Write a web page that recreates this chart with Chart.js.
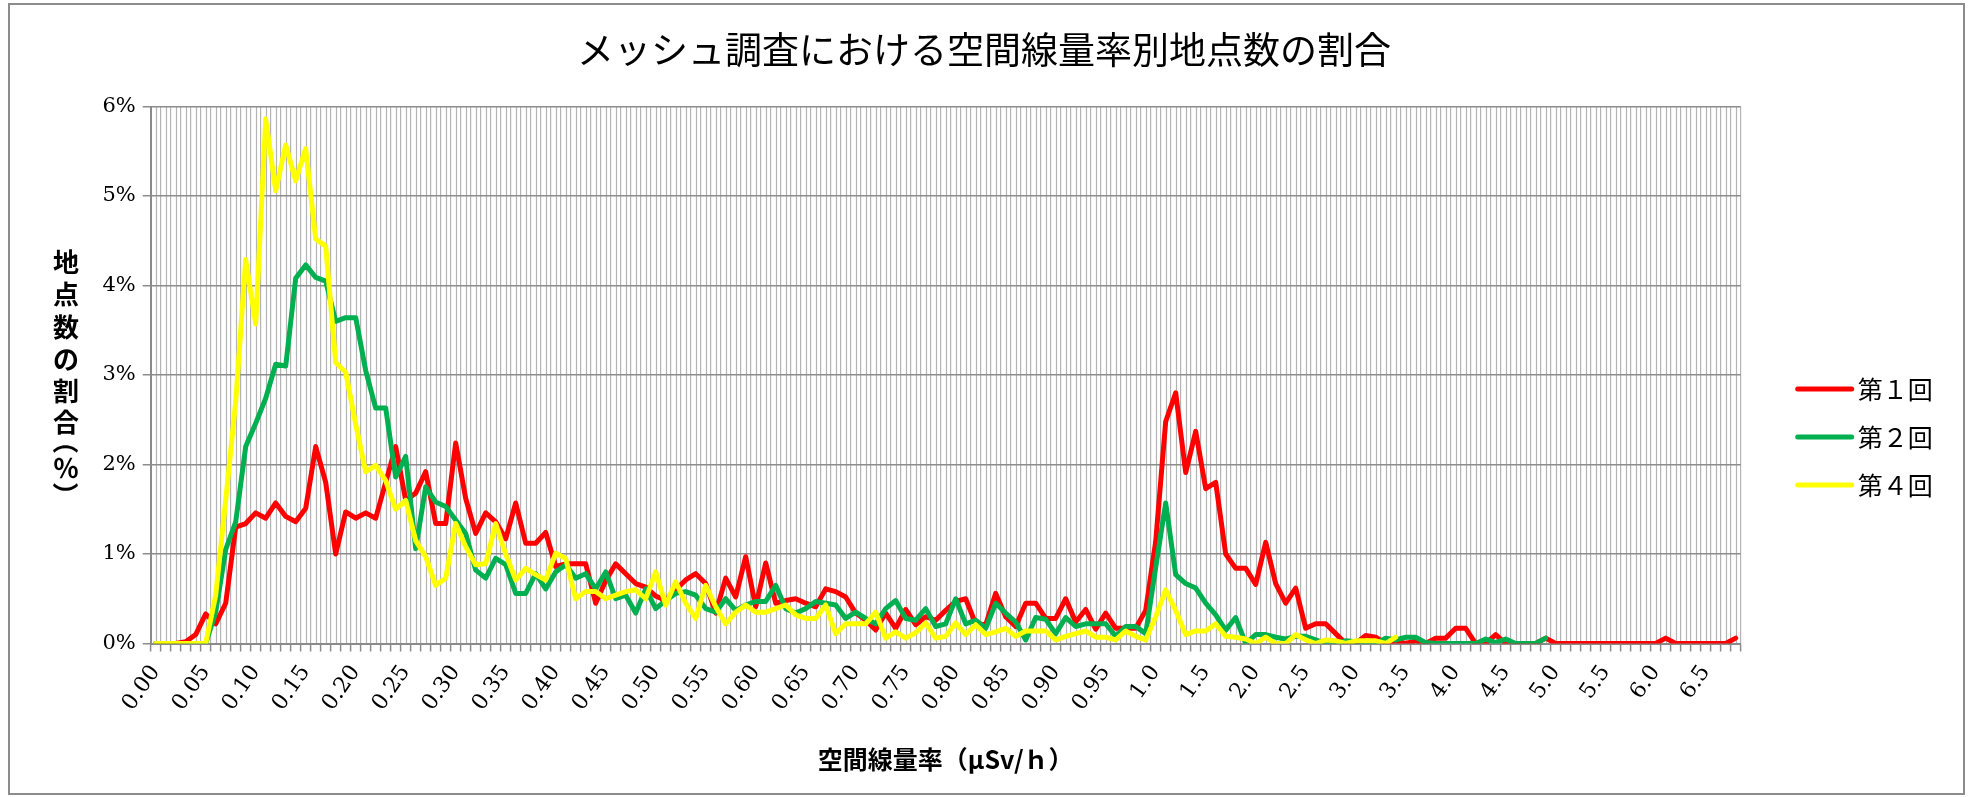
<!DOCTYPE html>
<html>
<head>
<meta charset="utf-8">
<script src="https://cdn.jsdelivr.net/npm/chart.js@4.4.1/dist/chart.umd.min.js"></script>
<style>
  html, body { margin: 0; padding: 0; background: #fff; }
  #wrap { width: 1968px; height: 797px; }
</style>
</head>
<body>
<div id="wrap"><canvas id="doseChart" width="1968" height="797"></canvas></div>
<script>
// categories: 0.00-0.99 by 0.01, then 1.0-6.8 by 0.1
const doseLabels = [];
for (let i = 0; i < 100; i++) doseLabels.push((i / 100).toFixed(2));
for (let i = 10; i <= 68; i++) doseLabels.push((i / 10).toFixed(1));

const seriesNames = ['第１回', '第２回', '第４回'];
const seriesColors = ['#FF0000', '#00B050', '#FFFF00'];
const yTicks = [0, 1, 2, 3, 4, 5, 6];

// % of points per dose-rate bin
const round1 = [
  0, 0, 0, 0.02, 0.1, 0.33, 0.22, 0.45, 1.3, 1.34,
  1.46, 1.40, 1.57, 1.42, 1.36, 1.51, 2.2, 1.8, 1.0, 1.47,
  1.40, 1.46, 1.40, 1.8, 2.2, 1.6, 1.68, 1.92, 1.34, 1.34,
  2.24, 1.62, 1.23, 1.46, 1.36, 1.17, 1.57, 1.12, 1.12, 1.24,
  0.86, 0.89, 0.89, 0.89, 0.45, 0.7, 0.89, 0.78, 0.67, 0.63,
  0.53, 0.48, 0.6, 0.71, 0.78, 0.67, 0.34, 0.73, 0.52, 0.97,
  0.41, 0.9, 0.45, 0.48, 0.5, 0.45, 0.41, 0.61, 0.58, 0.52,
  0.34, 0.26, 0.15, 0.34, 0.17, 0.38, 0.21, 0.30, 0.26, 0.37,
  0.47, 0.5, 0.22, 0.21, 0.56, 0.30, 0.19, 0.45, 0.45, 0.28,
  0.28, 0.5, 0.24, 0.38, 0.16, 0.34, 0.17, 0.17, 0.17, 0.37,
  1.14, 2.48, 2.80, 1.91, 2.37, 1.73, 1.8, 1.0, 0.84, 0.84,
  0.66, 1.13, 0.67, 0.45, 0.62, 0.17, 0.22, 0.22, 0.11, 0,
  0, 0.09, 0.07, 0, 0.03, 0, 0.03, 0, 0.06, 0.06,
  0.17, 0.17, 0, 0, 0.1, 0, 0, 0, 0, 0.06,
  0, 0, 0, 0, 0, 0, 0, 0, 0, 0,
  0, 0.06, 0, 0, 0, 0, 0, 0, 0.06
];
const round2 = [
  0, 0, 0, 0, 0, 0, 0.35, 1.05, 1.36, 2.2,
  2.46, 2.74, 3.12, 3.10, 4.08, 4.23, 4.09, 4.05, 3.6, 3.64,
  3.64, 3.05, 2.63, 2.63, 1.86, 2.09, 1.06, 1.75, 1.58, 1.53,
  1.38, 1.23, 0.82, 0.73, 0.95, 0.88, 0.56, 0.56, 0.78, 0.61,
  0.8, 0.88, 0.73, 0.78, 0.61, 0.8, 0.5, 0.54, 0.34, 0.61,
  0.39, 0.48, 0.56, 0.58, 0.54, 0.39, 0.35, 0.5, 0.37, 0.43,
  0.47, 0.47, 0.65, 0.39, 0.34, 0.39, 0.47, 0.45, 0.43, 0.28,
  0.35, 0.28, 0.22, 0.39, 0.48, 0.28, 0.26, 0.39, 0.19, 0.22,
  0.5, 0.22, 0.26, 0.17, 0.45, 0.34, 0.24, 0.04, 0.29, 0.27,
  0.11, 0.29, 0.19, 0.22, 0.22, 0.22, 0.08, 0.19, 0.19, 0.11,
  0.85, 1.57, 0.77, 0.67, 0.62, 0.45, 0.32, 0.15, 0.29, 0,
  0.1, 0.1, 0.07, 0.05, 0.08, 0.08, 0.04, 0, 0, 0.03,
  0.02, 0, 0, 0.06, 0.04, 0.07, 0.07, 0.01, 0, 0,
  0, 0, 0, 0.05, 0.01, 0.05, 0, 0, 0, 0.06
];
const round4 = [
  0, 0, 0, 0, 0, 0, 0.54, 1.6, 2.7, 4.29,
  3.57, 5.86, 5.06, 5.57, 5.17, 5.53, 4.52, 4.44, 3.14, 3.03,
  2.45, 1.92, 1.99, 1.82, 1.5, 1.6, 1.15, 0.97, 0.65, 0.73,
  1.34, 1.08, 0.88, 0.89, 1.34, 1.0, 0.71, 0.84, 0.77, 0.71,
  1.01, 0.95, 0.5, 0.58, 0.58, 0.5, 0.54, 0.58, 0.6, 0.5,
  0.8, 0.43, 0.69, 0.45, 0.28, 0.65, 0.41, 0.22, 0.35, 0.43,
  0.35, 0.35, 0.39, 0.43, 0.32, 0.28, 0.28, 0.43, 0.11, 0.22,
  0.22, 0.22, 0.35, 0.06, 0.13, 0.06, 0.12, 0.23, 0.06, 0.08,
  0.23, 0.1, 0.21, 0.1, 0.13, 0.17, 0.08, 0.14, 0.14, 0.14,
  0.04, 0.08, 0.11, 0.14, 0.07, 0.07, 0.04, 0.14, 0.08, 0.04,
  0.3, 0.6, 0.37, 0.1, 0.14, 0.14, 0.22, 0.08, 0.07, 0.05,
  0, 0.07, 0, 0, 0.1, 0.04, 0, 0.04, 0.03, 0,
  0.03, 0.03, 0.03, 0, 0.07
];

const serif = '"DejaVu Serif", "Liberation Serif", serif';
const jp = '"Noto Sans CJK JP", sans-serif';

// white page, grey frame, light lines through category centres
const framePlugin = {
  id: 'frame',
  beforeDraw(chart) {
    const ctx = chart.ctx;
    ctx.save();
    ctx.fillStyle = '#fff';
    ctx.fillRect(0, 0, chart.width, chart.height);
    ctx.strokeStyle = '#8c8c8c';
    ctx.lineWidth = 2;
    ctx.strokeRect(9, 4, chart.width - 13, chart.height - 7);
    const x = chart.scales.x, a = chart.chartArea;
    ctx.strokeStyle = '#b4b4b4';
    ctx.lineWidth = 1.2;
    ctx.beginPath();
    for (let i = 0; i < doseLabels.length; i++) {
      const px = Math.round(x.getPixelForValue(i)) + 0.5;
      ctx.moveTo(px, a.top);
      ctx.lineTo(px, a.bottom);
    }
    ctx.stroke();
    ctx.restore();
  }
};

// chart title, stacked y axis title and legend
const textPlugin = {
  id: 'texts',
  afterDraw(chart) {
    const ctx = chart.ctx, a = chart.chartArea;
    ctx.save();
    ctx.fillStyle = '#000';
    ctx.textAlign = 'center';
    ctx.textBaseline = 'middle';
    ctx.font = '37px ' + jp;
    ctx.fillText('メッシュ調査における空間線量率別地点数の割合', chart.width / 2, 50);

    const yTitle = ['地', '点', '数', 'の', '割', '合', '（', '％', '）'];
    const yPos = [262, 294, 327, 359, 391, 422, 441, 468, 495];
    ctx.font = 'bold 26px ' + jp;
    yTitle.forEach((ch, i) => {
      ctx.save();
      ctx.translate(66, yPos[i]);
      if (ch === '（' || ch === '）') ctx.rotate(Math.PI / 2);
      ctx.fillText(ch, 0, 0);
      ctx.restore();
    });

    ctx.textAlign = 'left';
    ctx.font = '25px ' + jp;
    ctx.lineCap = 'round';
    chart.data.datasets.forEach((ds, i) => {
      const y = 389 + i * 48;
      const x0 = a.right + 57;
      ctx.strokeStyle = ds.borderColor;
      ctx.lineWidth = 5;
      ctx.beginPath();
      ctx.moveTo(x0, y);
      ctx.lineTo(x0 + 54, y);
      ctx.stroke();
      ctx.fillText(ds.label, x0 + 60, y);
    });
    ctx.restore();
  }
};

const allSeries = [round1, round2, round4];
const datasets = allSeries.map((vals, i) => ({
  label: seriesNames[i],
  data: vals,
  borderColor: seriesColors[i],
  backgroundColor: seriesColors[i],
  borderWidth: 5,
  pointRadius: 0,
  tension: 0,
  borderJoinStyle: 'round',
  borderCapStyle: 'round',
  spanGaps: false,
  order: 3 - i
}));

new Chart(document.getElementById('doseChart'), {
  type: 'line',
  data: { labels: doseLabels, datasets },
  options: {
    responsive: false,
    animation: false,
    layout: { padding: { left: 0, top: 106.5, right: 227.3, bottom: 0 } },
    plugins: { legend: { display: false }, title: { display: false }, tooltip: { enabled: false } },
    scales: {
      x: {
        type: 'category',
        offset: true,
        grid: { offset: true, color: '#b4b4b4', lineWidth: 1.2, tickColor: '#8a8a8a', tickLength: 8, tickWidth: 1.5 },
        border: { color: '#8a8a8a', width: 2 },
        ticks: {
          autoSkip: false,
          maxRotation: 55,
          minRotation: 55,
          padding: 9,
          color: '#000',
          font: { family: serif, size: 22 },
          callback: (v, i) => (i % 5 === 0 ? doseLabels[i] : '')
        },
        title: {
          display: true,
          text: '空間線量率（μSv/ｈ）',
          color: '#000',
          font: { family: jp, size: 25, weight: 'bold' },
          padding: { top: 0, bottom: 23 }
        },
        afterFit: (scale) => { scale.height = 153.5; }
      },
      y: {
        min: 0,
        max: 6,
        afterBuildTicks: (scale) => { scale.ticks = yTicks.map(v => ({ value: v })); },
        grid: { color: '#8c8c8c', lineWidth: 1.5, tickColor: '#8c8c8c', tickLength: 8 },
        border: { color: '#8a8a8a', width: 2 },
        ticks: {
          padding: 7,
          color: '#000',
          font: { family: serif, size: 21 },
          callback: (v) => v + '%'
        },
        afterFit: (scale) => { scale.width = 150.7; }
      }
    }
  },
  plugins: [framePlugin, textPlugin]
});
</script>
</body>
</html>
